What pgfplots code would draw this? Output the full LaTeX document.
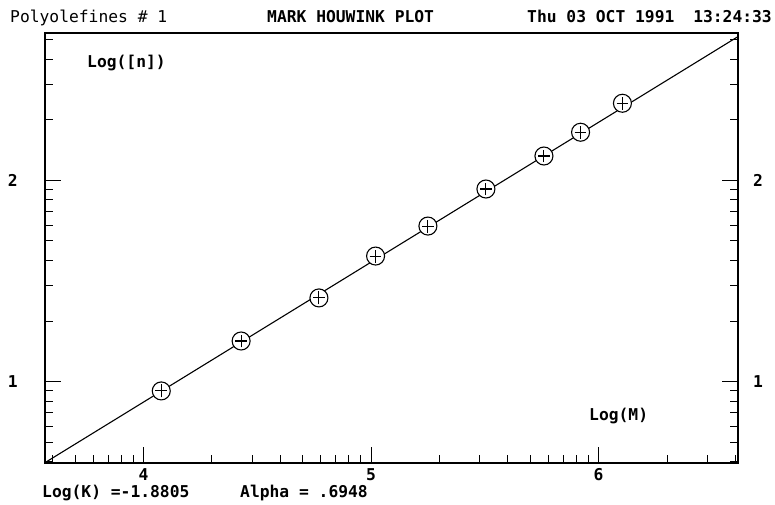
\documentclass[border=0pt]{standalone}
\usepackage{fontspec}
\usepackage{pgfplots}
\pgfplotsset{compat=1.18}
\newfontfamily\mono{DejaVu Sans Mono}
\newcommand\lab{\fontsize{16.3}{19}\selectfont\mono}
\newcommand\blab{\fontsize{16.3}{19}\selectfont\mono\bfseries}

% circle with a small cross inside, filled so the fit line is hidden behind it
\pgfdeclareplotmark{cplus}{%
  \pgfpathcircle{\pgfpointorigin}{\pgfplotmarksize}%
  \pgfusepathqfillstroke
  \pgfpathmoveto{\pgfpoint{0pt}{-0.72\pgfplotmarksize}}%
  \pgfpathlineto{\pgfpoint{0pt}{0.72\pgfplotmarksize}}%
  \pgfpathmoveto{\pgfpoint{-0.65\pgfplotmarksize}{0pt}}%
  \pgfpathlineto{\pgfpoint{0.65\pgfplotmarksize}{0pt}}%
  \pgfusepathqstroke}

\begin{document}
\begin{tikzpicture}
\path[use as bounding box] (0,0) rectangle (775pt,504pt);

\pgfplotsset{
  mhbase/.style={
    at={(45pt,41pt)}, anchor=south west,
    scale only axis, width=693pt, height=430pt,
    xmin=3.567, xmax=6.613, ymin=0.596, ymax=2.732,
    ytick={1,2}, yticklabels={1,2},
    tick label style={font=\blab, inner sep=0pt},
  }
}

\begin{axis}[
  mhbase,
  xtick={4,5,6}, xticklabels={4,5,6},
  minor xtick={3.602,3.699,3.778,3.845,3.903,3.954,
               4.301,4.477,4.602,4.699,4.778,4.845,4.903,4.954,
               5.301,5.477,5.602,5.699,5.778,5.845,5.903,5.954,
               6.301,6.477,6.602},
  minor ytick={0.602,0.699,0.778,0.845,0.903,0.954,
               1.301,1.477,1.602,1.699,1.778,1.845,1.903,1.954,
               2.301,2.477,2.602,2.699},
  xtick pos=left, ytick pos=both,
  major tick length=16pt, minor tick length=8pt,
  every tick/.style={black, line width=1pt},
  axis line style={black, line width=1.2pt},
  xticklabel style={yshift=-5pt},
  yticklabel style={xshift=-27pt},
]
% Mark-Houwink fit: log[n] = -1.8805 + 0.6948 log M
\addplot[black, line width=1.1pt] coordinates {(3.567,0.5978) (6.613,2.7142)};
\addplot[only marks, mark=cplus, mark size=9pt,
         mark options={draw=black, fill=white, line width=1.1pt}]
  coordinates {
    (4.078,0.954) (4.429,1.202) (4.771,1.416) (5.020,1.624) (5.250,1.773)
    (5.505,1.957) (5.760,2.121) (5.921,2.239) (6.105,2.383)
  };
\end{axis}

% right-hand tick labels
\begin{axis}[
  mhbase,
  hide x axis,
  axis y line*=right,
  y axis line style={draw=none},
  major tick length=0pt,
  yticklabel style={xshift=15pt},
]
\end{axis}

% header and annotations
\node[anchor=base west, inner sep=0pt, font=\lab] at (10pt,481pt) {Polyolefines \# 1};
\node[anchor=base west, inner sep=0pt, font=\blab] at (267pt,481pt) {MARK HOUWINK PLOT};
\node[anchor=base west, inner sep=0pt, font=\blab] at (527pt,481pt) {Thu 03 OCT 1991};
\node[anchor=base east, inner sep=0pt, font=\blab] at (772pt,481pt) {13:24:33};
\node[anchor=base west, inner sep=0pt, font=\blab] at (87pt,436pt) {Log([n])};
\node[anchor=base west, inner sep=0pt, font=\blab] at (589pt,84pt) {Log(M)};
\node[anchor=base west, inner sep=0pt, font=\blab] at (42pt,7pt) {Log(K) =-1.8805};
\node[anchor=base west, inner sep=0pt, font=\blab] at (240pt,7pt) {Alpha = .6948};
\end{tikzpicture}
\end{document}
